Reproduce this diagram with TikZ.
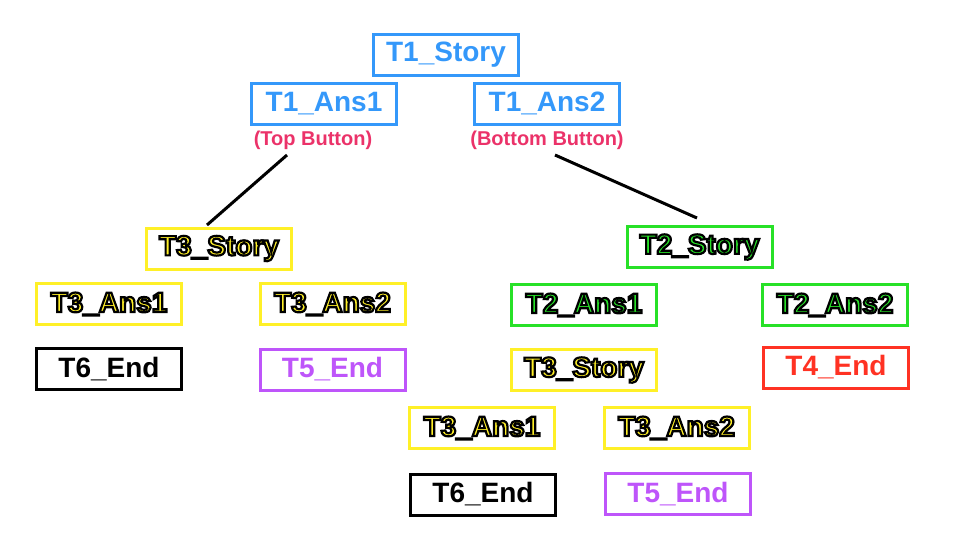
\documentclass[tikz,border=0pt]{standalone}
\usepackage{fontspec}
\setmainfont{Liberation Sans}
\usetikzlibrary{positioning}

\definecolor{tblue}{RGB}{52,152,250}
\definecolor{tpink}{RGB}{235,50,105}
\definecolor{tyellow}{RGB}{255,240,40}
\definecolor{tgreen}{RGB}{40,225,40}
\definecolor{tred}{RGB}{255,50,35}
\definecolor{tpurple}{RGB}{190,85,250}

% black outline round coloured letters
\newcommand{\outl}[1]{\special{pdf:literal direct 2 Tr 2.2 w 0 0 0 RG}#1\special{pdf:literal direct 0 Tr}}

\begin{document}
\begin{tikzpicture}[x=1pt,y=-1pt]
\useasboundingbox (0,0) rectangle (958,552);
\tikzstyle{box}=[draw, line width=3pt, minimum width=145pt,
                 minimum height=41pt, inner sep=0pt,
                 font=\bfseries\fontsize{28}{28}\selectfont]
\tikzstyle{bluebox}=[box, draw=tblue, text=tblue]
\tikzstyle{yelbox}=[box, draw=tyellow, text=tyellow]
\tikzstyle{grnbox}=[box, draw=tgreen, text=tgreen]
\tikzstyle{endbox}=[box, draw=black, text=black]
\tikzstyle{btnlabel}=[text=tpink, inner sep=0pt,
                      font=\bfseries\fontsize{20}{20}\selectfont]
\tikzstyle{link}=[line width=3pt]
% top level
\node[bluebox] (t1story) at (446,54.5){T1\_Story};
\node[bluebox] (t1ans1) at (324,103.5){T1\_Ans1};
\node[bluebox] (t1ans2) at (547,103.5){T1\_Ans2};
\node[btnlabel] (topbtn) at (313,140){(Top Button)};
\node[btnlabel] (botbtn) at (547,140){(Bottom Button)};
% left branch
\node[yelbox] (t3story) at (219,248.5){\outl{T3\_Story}};
\node[yelbox] (t3ans1) at (109,304){\outl{T3\_Ans1}};
\node[yelbox] (t3ans2) at (332.5,304){\outl{T3\_Ans2}};
\node[endbox] (t6end) at (109,369){T6\_End};
\node[box, draw=tpurple, text=tpurple] (t5end) at (332.5,369.5){T5\_End};
% right branch
\node[grnbox] (t2story) at (699.5,247){\outl{T2\_Story}};
\node[grnbox] (t2ans1) at (584,305){\outl{T2\_Ans1}};
\node[grnbox] (t2ans2) at (835,305){\outl{T2\_Ans2}};
\node[yelbox] (t3storyb) at (584,370){\outl{T3\_Story}};
\node[box, draw=tred, text=tred] (t4end) at (836,367.5){T4\_End};
\node[yelbox] (t3ans1b) at (482,428){\outl{T3\_Ans1}};
\node[yelbox] (t3ans2b) at (676.5,428){\outl{T3\_Ans2}};
\node[endbox] (t6endb) at (483,494.5){T6\_End};
\node[box, draw=tpurple, text=tpurple] (t5endb) at (678,494){T5\_End};
% connectors
\coordinate (topfoot) at (287,155);
\coordinate (t3head) at (207,225);
\coordinate (botfoot) at (555,155);
\coordinate (t2head) at (697,218);
\draw[link] (topfoot) -- (t3head);
\draw[link] (botfoot) -- (t2head);
\end{tikzpicture}
\end{document}
